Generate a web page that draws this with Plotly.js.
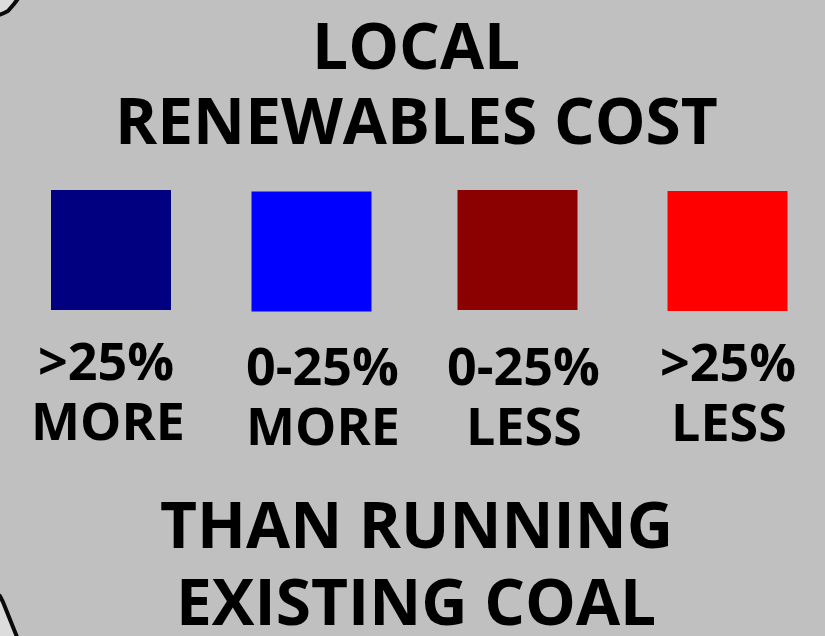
<!DOCTYPE html>
<html>
<head>
<meta charset="utf-8">
<script src="https://cdn.plot.ly/plotly-3.0.1.min.js"></script>
<style>
html,body{margin:0;padding:0;background:#c0c0c0;}
#chart{width:825px;height:636px;}
</style>
</head>
<body>
<div id="chart"></div>
<script>
// ---- data ----
var titleLines = ['LOCAL', 'RENEWABLES COST'];
var footerLines = ['THAN RUNNING', 'EXISTING COAL'];
var categoryTop = ['>25%', '0-25%', '0-25%', '>25%'];
var categoryBottom = ['MORE', 'MORE', 'LESS', 'LESS'];
var categoryColors = ['#000080', '#0000ff', '#8b0000', '#ff0000'];
// map outline fragments visible at the left edge
var outlineTopX = [-6, -3, 0, 4, 8, 11, 14, 17, 19, 19, -6];
var outlineTopY = [17, 16, 15, 13, 11, 8, 4, 0, -3, -6, -6];
var outlineBotX = [-6, -3, 0, 3, 6, 9, 12, 15, 17, 19, -6];
var outlineBotY = [592, 594, 596, 602, 609, 616, 624, 632, 636, 642, 642];

// ---- layout constants ----
var W = 825, H = 636;
var squareX = [111, 311.5, 517.5, 727.5];
var squareY = [250, 251.5, 250, 251];
var labelX1 = [106, 322, 523, 728];
var labelX2 = [108, 323, 524, 729];
var labelY1 = [359, 364, 364, 360];
var labelY2 = [419, 424, 424, 420];
var titleY = [44, 119];
var footerY = [523, 600];
var centerX = 416;

var fontBase = {family: 'Open Sans', color: '#000000', weight: 700};
function f(size) { return Object.assign({}, fontBase, {size: size}); }

var traces = [
  {x: outlineTopX, y: outlineTopY, type: 'scatter', mode: 'lines', fill: 'toself',
   fillcolor: '#dcdcdc', line: {color: '#0a0a0a', width: 4}, hoverinfo: 'skip'},
  {x: outlineBotX, y: outlineBotY, type: 'scatter', mode: 'lines', fill: 'toself',
   fillcolor: '#dcdcdc', line: {color: '#0a0a0a', width: 4}, hoverinfo: 'skip'},
  {x: squareX, y: squareY, type: 'scatter', mode: 'markers',
   marker: {symbol: 'square', size: 120, color: categoryColors, line: {width: 0}},
   hoverinfo: 'skip'}
];

var ann = [];
titleLines.forEach(function (t, i) {
  ann.push({text: t, x: centerX, y: titleY[i], xref: 'x', yref: 'y', showarrow: false,
            xanchor: 'center', yanchor: 'middle', font: f(64)});
});
footerLines.forEach(function (t, i) {
  ann.push({text: t, x: centerX, y: footerY[i], xref: 'x', yref: 'y', showarrow: false,
            xanchor: 'center', yanchor: 'middle', font: f(64)});
});
categoryTop.forEach(function (t, i) {
  ann.push({text: t, x: labelX1[i], y: labelY1[i], xref: 'x', yref: 'y', showarrow: false,
            xanchor: 'center', yanchor: 'middle', font: f(52)});
  ann.push({text: categoryBottom[i], x: labelX2[i], y: labelY2[i], xref: 'x', yref: 'y', showarrow: false,
            xanchor: 'center', yanchor: 'middle', font: f(52)});
});

var layout = {
  width: W, height: H,
  margin: {l: 0, r: 0, t: 0, b: 0, pad: 0},
  paper_bgcolor: '#c0c0c0', plot_bgcolor: '#c0c0c0',
  showlegend: false,
  xaxis: {range: [0, W], visible: false, fixedrange: true},
  yaxis: {range: [H, 0], visible: false, fixedrange: true},
  annotations: ann
};

Plotly.newPlot('chart', traces, layout, {displayModeBar: false, staticPlot: true});
</script>
</body>
</html>
